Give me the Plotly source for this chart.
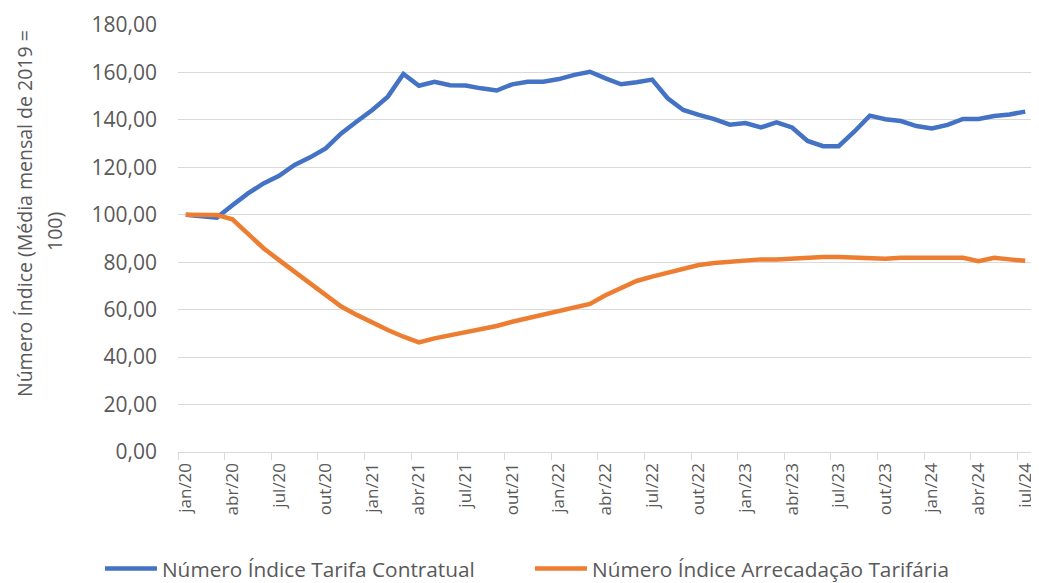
import plotly.graph_objects as go

months = [
    "jan/20", "fev/20", "mar/20", "abr/20", "mai/20", "jun/20", "jul/20", "ago/20", "set/20", "out/20", "nov/20", "dez/20",
    "jan/21", "fev/21", "mar/21", "abr/21", "mai/21", "jun/21", "jul/21", "ago/21", "set/21", "out/21", "nov/21", "dez/21",
    "jan/22", "fev/22", "mar/22", "abr/22", "mai/22", "jun/22", "jul/22", "ago/22", "set/22", "out/22", "nov/22", "dez/22",
    "jan/23", "fev/23", "mar/23", "abr/23", "mai/23", "jun/23", "jul/23", "ago/23", "set/23", "out/23", "nov/23", "dez/23",
    "jan/24", "fev/24", "mar/24", "abr/24", "mai/24", "jun/24", "jul/24",
]

tarifa_contratual = [
    100.0, 99.2, 98.8, 104.0, 109.0, 113.2, 116.4, 121.0, 124.2, 128.0, 134.3, 139.3,
    144.2, 149.8, 159.4, 154.4, 156.1, 154.6, 154.5, 153.3, 152.4, 155.0, 156.1, 156.1,
    157.2, 159.0, 160.3, 157.5, 155.0, 155.9, 157.0, 149.1, 144.2, 142.1, 140.3, 138.0,
    138.7, 136.8, 139.0, 136.8, 131.1, 128.9, 128.9, 135.0, 141.8, 140.3, 139.5, 137.4,
    136.4, 137.9, 140.4, 140.4, 141.6, 142.3, 143.5,
]

arrecadacao_tarifaria = [
    100.0, 100.0, 99.9, 98.1, 92.2, 85.9, 80.9, 76.0, 71.1, 66.2, 61.3, 57.8,
    54.5, 51.4, 48.6, 46.2, 47.9, 49.2, 50.4, 51.5, 53.1, 54.9, 56.4, 58.0,
    59.6, 60.9, 62.4, 66.1, 69.3, 72.1, 73.9, 75.6, 77.4, 78.8, 79.7, 80.2,
    80.5, 81.2, 81.2, 81.6, 81.9, 82.2, 82.2, 81.9, 81.9, 81.5, 81.9, 81.9,
    81.5, 81.5, 81.9, 80.4, 81.9, 81.2, 80.6,
]

y_ticks = [0, 20, 40, 60, 80, 100, 120, 140, 160, 180]

series_names = ["Número Índice Tarifa Contratual", "Número Índice Arrecadação Tarifária"]
series_colors = ["#4472C4", "#ED7D31"]
y_title_lines = ["Número Índice (Média mensal de 2019 =", "100)"]

idx = list(range(len(months)))
label_idx = idx[::3]
label_text = months[::3]
boundary_ticks = [i - 0.5 for i in label_idx]

FONT = "Open Sans"
GREY = "#595959"

fig = go.Figure()
legend_ids = ["legend", "legend2"]
for name, vals, col, lg in zip(series_names, [tarifa_contratual, arrecadacao_tarifaria], series_colors, legend_ids):
    fig.add_trace(go.Scatter(
        x=idx, y=vals, mode="lines", name=name, legend=lg,
        line=dict(color=col, width=4.5, shape="linear"),
        hovertemplate="%{text}: %{y:.2f}<extra></extra>",
        text=months,
    ))

legend_style = dict(
    orientation="h", xanchor="left", xref="container",
    y=0.0245, yanchor="middle", yref="container",
    font=dict(family=FONT, size=20.8, color=GREY),
    bgcolor="rgba(0,0,0,0)", borderwidth=0,
    itemwidth=52,
)

# page is rendered with an 8px body margin, so the figure is sized to fit the window
fig.update_layout(
    width=1031, height=575,
    margin=dict(l=170, r=6, t=17, b=131),
    paper_bgcolor="white", plot_bgcolor="white",
    font=dict(family=FONT, color=GREY, size=17),
    showlegend=True,
    legend=dict(x=0.0892, **legend_style),
    legend2=dict(x=0.5063, **legend_style),
)

fig.update_xaxes(
    range=[-0.5, len(months) - 0.5],
    tickmode="array", tickvals=label_idx, ticktext=label_text,
    tickangle=-90, ticks="", showgrid=False, zeroline=False,
    showline=True, linecolor="#D9D9D9", linewidth=1.3,
    tickfont=dict(family=FONT, size=17, color=GREY),
    ticklabelstandoff=3,
    minor=dict(tickmode="array", tickvals=boundary_ticks, ticks="outside",
               ticklen=7, tickcolor="#D9D9D9", tickwidth=1.3, showgrid=False),
    automargin=False,
    fixedrange=True,
)

fig.update_yaxes(
    range=[0, 180],
    tickmode="array", tickvals=y_ticks,
    ticktext=[f"{v:.2f}".replace(".", ",") for v in y_ticks],
    showgrid=True, gridcolor="#D9D9D9", gridwidth=1.3,
    zeroline=False, showline=False, ticks="",
    ticklabelstandoff=20,
    tickfont=dict(family=FONT, size=21, color=GREY),
    automargin=False,
    fixedrange=True,
)

title_pos = [(-0.1789, 0.5574), (-0.1439, 0.5176)]
for line, (tx, ty) in zip(y_title_lines, title_pos):
    fig.add_annotation(
        text=line, xref="paper", yref="paper", x=tx, y=ty,
        xanchor="center", yanchor="middle", textangle=-90, showarrow=False,
        font=dict(family=FONT, size=19.5, color=GREY),
    )

fig.write_html("out.html")
